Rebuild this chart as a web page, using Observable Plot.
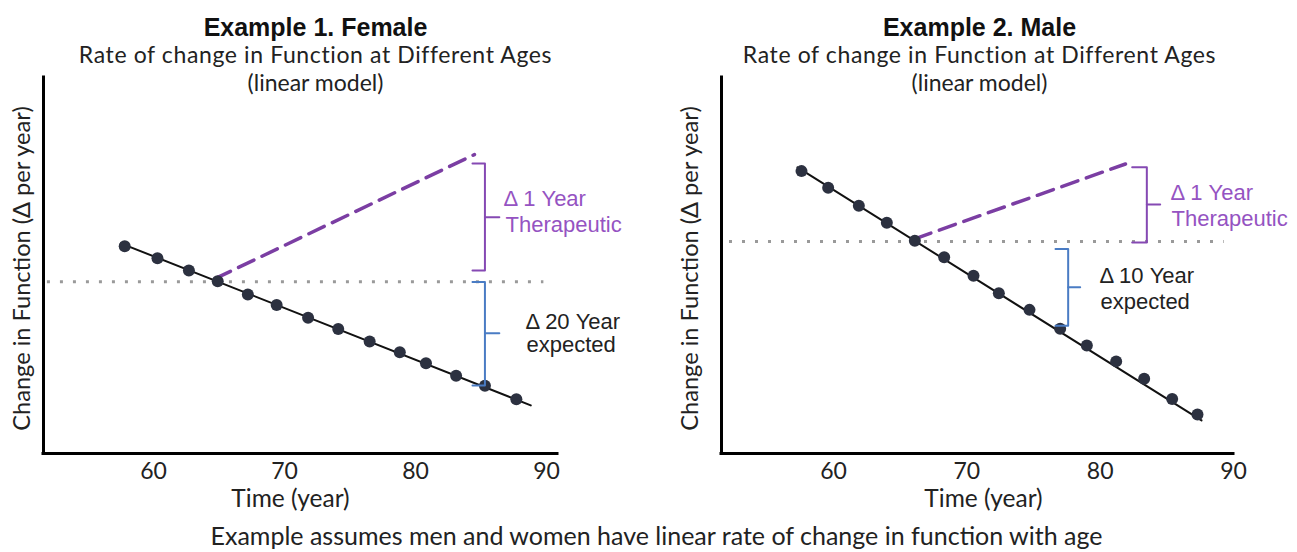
<!DOCTYPE html>
<html>
<head>
<meta charset="utf-8">
<script src="https://cdn.jsdelivr.net/npm/d3@7"></script>
<script src="https://cdn.jsdelivr.net/npm/@observablehq/plot@0.6"></script>
<style>
  body { margin: 0; background: #fff; }
  #wrap { position: relative; width: 1297px; height: 552px; overflow: hidden; background: #fff; }
  #left { position: absolute; left: 0; top: 0; }
  #right { position: absolute; left: 650px; top: 0; }
  #caption { position: absolute; left: 8px; width: 1297px; top: 523px; text-align: center;
    font-family: Lato, sans-serif; font-size: 25px; line-height: 1; color: #222; white-space: nowrap; }
</style>
</head>
<body>
<div id="wrap">
  <div id="left"></div>
  <div id="right"></div>
  <div id="caption">Example assumes men and women have linear rate of change in function with age</div>
</div>
<script>
// ---------- data ----------
const tickYears = [60, 70, 80, 90];
const xLabel = "Time (year)";
const yLabel = "Change in Function (Δ per year)";
const subtitleText = "Rate of change in Function at Different Ages";
const modelText = "(linear model)";

// Example 1 — female
const femaleTitle = "Example 1. Female";
const femaleAges   = [57.8, 60.3, 62.7, 64.9, 67.2, 69.4, 71.8, 74.1, 76.5, 78.8, 80.8, 83.1, 85.3, 87.7];
const femaleValues = [55.1, 51.9, 48.7, 45.8, 42.3, 39.5, 36.1, 33.1, 29.8, 26.9, 24.0, 20.7, 18.0, 14.4];
const femaleTrendAges = [57.5, 88.8];
const femaleTrendValues = [55.9, 12.8];
const femaleTherapyAges = [64.7, 84.5];
const femaleTherapyValues = [46.5, 79.5];
const femaleReferenceValue = 45.7;
const femaleReferenceAges = [51.9, 89.8];
// braces: [x, hook x, nub x, low, high, mid]
const femaleTherapyBrace = [85.3, 84.35, 86.4, 48.7, 77.1, 62.8];
const femaleExpectedBrace = [85.3, 84.35, 86.4, 18.1, 45.6, 32.0];
const femaleTherapyLabels = ["Δ 1 Year", "Therapeutic"];
const femaleTherapyLabelAges = [86.72, 86.87];
const femaleTherapyLabelValues = [67.7, 60.9];
const femaleExpectedLabels = ["Δ 20 Year", "expected"];
const femaleExpectedLabelAges = [88.4, 88.47];
const femaleExpectedLabelValues = [35.0, 29.0];

// Example 2 — male
const maleTitle = "Example 2. Male";
const maleAges   = [57.6, 59.6, 61.9, 64.0, 66.1, 68.3, 70.5, 72.4, 74.7, 77.0, 79.0, 81.2, 83.3, 85.4, 87.3];
const maleValues = [75.1, 70.7, 65.9, 61.4, 56.6, 52.2, 47.3, 42.6, 38.2, 33.2, 28.7, 24.5, 19.9, 14.5, 10.4];
const maleTrendAges = [57.3, 87.6];
const maleTrendValues = [76.1, 8.8];
const maleTherapyAges = [66.1, 81.9];
const maleTherapyValues = [57.1, 77.0];
const maleReferenceValue = 56.4;
const maleReferenceAges = [52.2, 89.3];
const maleTherapyBrace = [83.5, 82.4, 84.5, 56.1, 76.1, 66.2];
const maleExpectedBrace = [77.6, 76.65, 78.5, 34.0, 54.4, 44.2];
const maleTherapyLabels = ["Δ 1 Year", "Therapeutic"];
const maleTherapyLabelAges = [85.28, 85.35];
const maleTherapyLabelValues = [69.4, 62.3];
const maleExpectedLabels = ["Δ 10 Year", "expected"];
const maleExpectedLabelAges = [79.95, 80.03];
const maleExpectedLabelValues = [47.1, 40.4];

// ---------- helpers ----------
const zip = (xs, ys) => xs.map((x, i) => ({x, y: ys[i]}));
function braceRows([x, hook, nub, lo, hi, mid]) {
  return [
    {x: hook, y: hi, s: 0}, {x: x, y: hi, s: 0}, {x: x, y: lo, s: 0}, {x: hook, y: lo, s: 0},
    {x: x, y: mid, s: 1}, {x: nub, y: mid, s: 1}
  ];
}
const labelRows = (texts, xs, ys) => texts.map((t, i) => ({t, x: xs[i], y: ys[i]}));

const PURPLE_LINE = "#7b3ea3", PURPLE_BRACE = "#8549b3", PURPLE_TEXT = "#9553c2";
const BLUE = "#4a7cc4", DOT = "#2c3140";

function panel(o) {
  const svg = Plot.plot({
    width: o.width, height: 552,
    marginTop: 77, marginBottom: 99, marginLeft: o.marginLeft, marginRight: o.marginRight,
    x: {domain: o.xDomain},
    y: {domain: [0, 100], axis: null},
    style: {fontFamily: "Lato, sans-serif", fontSize: "23px", color: "#222", background: "transparent", overflow: "visible"},
    marks: [
      // titles
      Plot.text([o.title], {frameAnchor: "top", dx: o.titleDx, dy: -50, fontSize: 25, fontWeight: "bold",
        fontFamily: "Liberation Sans, Arial, sans-serif", fill: "#111", lineAnchor: "middle"}),
      Plot.text([subtitleText + "\n" + modelText], {frameAnchor: "top", dx: o.titleDx, dy: -9.5, fontSize: 23,
        lineHeight: 1.204, fontFamily: "Lato, sans-serif", fill: "#222", lineAnchor: "middle"}),
      // axes
      Plot.axisX(tickYears, {tickSize: 0, tickPadding: 9, label: null, fontSize: 23, fill: "#222"}),
      Plot.text([xLabel], {frameAnchor: "bottom", dx: o.xLabelDx, dy: 36, lineAnchor: "top", fontSize: 24.5,
        fontFamily: "Lato, sans-serif", fill: "#222"}),
      Plot.text([yLabel], {frameAnchor: "left", dx: o.yLabelDx, dy: 3, rotate: -90, textAnchor: "middle",
        lineAnchor: "middle", fontSize: 23.6, fontFamily: "Lato, sans-serif", fill: "#222"}),
      // reference dotted line
      Plot.ruleY([o.refValue], {x1: o.refAges[0], x2: o.refAges[1], stroke: "#9a9a9a", strokeWidth: 3,
        strokeDasharray: "3,10"}),
      // therapeutic dashed line
      Plot.line(zip(o.therapyAges, o.therapyValues), {x: "x", y: "y", stroke: PURPLE_LINE, strokeWidth: 3.5,
        strokeDasharray: "17,9"}),
      // trend line + points
      Plot.line(zip(o.trendAges, o.trendValues), {x: "x", y: "y", stroke: "#111", strokeWidth: 2}),
      Plot.dot(zip(o.ages, o.values), {x: "x", y: "y", r: 6, fill: DOT}),
      // braces
      Plot.line(braceRows(o.therapyBrace), {x: "x", y: "y", z: "s", stroke: PURPLE_BRACE, strokeWidth: 2}),
      Plot.line(braceRows(o.expectedBrace), {x: "x", y: "y", z: "s", stroke: BLUE, strokeWidth: 2}),
      // labels
      Plot.text(labelRows(...o.therapyLabels), {x: "x", y: "y", text: "t", textAnchor: "start", lineAnchor: "middle",
        fontSize: 22, fontFamily: "Liberation Sans, Arial, sans-serif", fill: PURPLE_TEXT}),
      Plot.text(labelRows(...o.expectedLabels), {x: "x", y: "y", text: "t", textAnchor: "start", lineAnchor: "middle",
        fontSize: 22, fontFamily: "Liberation Sans, Arial, sans-serif", fill: "#222"}),
      // axis frame lines
      Plot.ruleY([0], {stroke: "#000", strokeWidth: 3, strokeLinecap: "square"}),
      Plot.ruleX([o.xDomain[0]], {stroke: "#000", strokeWidth: 3, strokeLinecap: "square"})
    ]
  });
  // widen the subtitle line slightly (the reference font is wider than Lato)
  svg.querySelectorAll("tspan").forEach((t) => {
    if (t.textContent === subtitleText) t.style.letterSpacing = "0.62px";
  });
  return svg;
}

document.getElementById("left").append(panel({
  width: 650, marginLeft: 43, marginRight: 93, xDomain: [51.6, 90.84],
  title: femaleTitle, titleDx: 15, xLabelDx: -10, yLabelDx: -21,
  ages: femaleAges, values: femaleValues,
  trendAges: femaleTrendAges, trendValues: femaleTrendValues,
  therapyAges: femaleTherapyAges, therapyValues: femaleTherapyValues,
  refValue: femaleReferenceValue, refAges: femaleReferenceAges,
  therapyBrace: femaleTherapyBrace, expectedBrace: femaleExpectedBrace,
  therapyLabels: [femaleTherapyLabels, femaleTherapyLabelAges, femaleTherapyLabelValues],
  expectedLabels: [femaleExpectedLabels, femaleExpectedLabelAges, femaleExpectedLabelValues]
}));

document.getElementById("right").append(panel({
  width: 647, marginLeft: 71, marginRight: 64, xDomain: [51.6, 90],
  title: maleTitle, titleDx: 2, xLabelDx: 6, yLabelDx: -31,
  ages: maleAges, values: maleValues,
  trendAges: maleTrendAges, trendValues: maleTrendValues,
  therapyAges: maleTherapyAges, therapyValues: maleTherapyValues,
  refValue: maleReferenceValue, refAges: maleReferenceAges,
  therapyBrace: maleTherapyBrace, expectedBrace: maleExpectedBrace,
  therapyLabels: [maleTherapyLabels, maleTherapyLabelAges, maleTherapyLabelValues],
  expectedLabels: [maleExpectedLabels, maleExpectedLabelAges, maleExpectedLabelValues]
}));
</script>
</body>
</html>
